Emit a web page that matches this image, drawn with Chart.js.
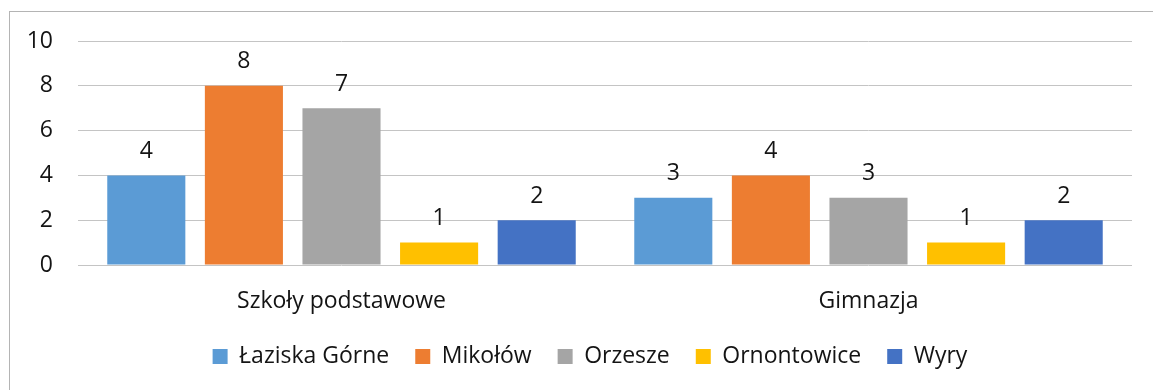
<!DOCTYPE html>
<html lang="pl">
<head>
<meta charset="utf-8">
<script src="https://cdn.jsdelivr.net/npm/chart.js@4/dist/chart.umd.min.js"></script>
<style>
  html, body { margin: 0; padding: 0; background: #fff; }
  body { width: 1153px; height: 390px; overflow: hidden; position: relative; }
  #frame {
    position: absolute; left: 9px; top: 11px; width: 1160px; height: 400px;
    border-top: 1.5px solid #b4b4b4; border-left: 1.5px solid #b4b4b4;
    box-sizing: border-box;
  }
  #wrap { position: absolute; left: 0; top: 0; width: 1153px; height: 390px; }
</style>
</head>
<body>
<div id="frame"></div>
<div id="wrap"><canvas id="chart"></canvas></div>
<script>
// Liczba szkół według gminy
const categories = ['Szkoły podstawowe', 'Gimnazja'];
const seriesNames = ['Łaziska Górne', 'Mikołów', 'Orzesze', 'Ornontowice', 'Wyry'];
const lazisk = [4, 3];
const mikolow = [8, 4];
const orzesze = [7, 3];
const ornontowice = [1, 1];
const wyry = [2, 2];
const yTicks = [0, 2, 4, 6, 8, 10];

const colors = ['#5B9BD5', '#ED7D31', '#A5A5A5', '#FFC000', '#4472C4'];
const values = [lazisk, mikolow, orzesze, ornontowice, wyry];

const FONT = '"Open Sans", Lato, sans-serif';
const SIZE = 23;
const TEXT = '#141414';

// Value labels above each bar
const valueLabels = {
  id: 'valueLabels',
  afterDatasetsDraw(chart) {
    const ctx = chart.ctx;
    ctx.save();
    ctx.font = SIZE + 'px ' + FONT;
    ctx.fillStyle = TEXT;
    ctx.textAlign = 'center';
    ctx.textBaseline = 'middle';
    chart.data.datasets.forEach((ds, i) => {
      chart.getDatasetMeta(i).data.forEach((bar, j) => {
        ctx.fillText(String(ds.data[j]), bar.x, bar.y - 24);
      });
    });
    ctx.restore();
  }
};

// Centre the legend row under the plot area rather than the whole canvas
const legendShift = {
  id: 'legendShift',
  afterLayout(chart) {
    const lg = chart.legend;
    if (!lg) return;
    const dx = 24;
    lg.left += dx;
    lg.right += dx;
  }
};

new Chart(document.getElementById('chart'), {
  type: 'bar',
  data: {
    labels: categories,
    datasets: seriesNames.map((name, i) => ({
      label: name,
      data: values[i],
      backgroundColor: colors[i],
      borderWidth: 0,
      barPercentage: 0.8,
      categoryPercentage: 0.926
    }))
  },
  options: {
    responsive: true,
    maintainAspectRatio: false,
    animation: false,
    devicePixelRatio: 1,
    layout: { padding: { left: 0, right: 21, top: 41, bottom: 12 } },
    plugins: {
      legend: {
        position: 'bottom',
        labels: {
          font: { size: SIZE, family: FONT },
          color: TEXT,
          boxWidth: 15,
          boxHeight: 15,
          padding: 26
        }
      },
      tooltip: { enabled: false }
    },
    scales: {
      x: {
        grid: { display: false, drawTicks: false },
        border: { display: false },
        ticks: { font: { size: SIZE, family: FONT }, color: TEXT, padding: 23 },
        afterFit(scale) { scale.height = 54; }
      },
      y: {
        min: 0,
        max: 10,
        grid: { color: '#c4c4c4', lineWidth: 1, drawTicks: false },
        border: { display: false },
        afterBuildTicks(scale) { scale.ticks = yTicks.map(v => ({ value: v })); },
        ticks: { font: { size: SIZE, family: FONT }, color: TEXT, padding: 25 },
        afterFit(scale) { scale.width = 78; }
      }
    }
  },
  plugins: [valueLabels, legendShift]
});
</script>
</body>
</html>
